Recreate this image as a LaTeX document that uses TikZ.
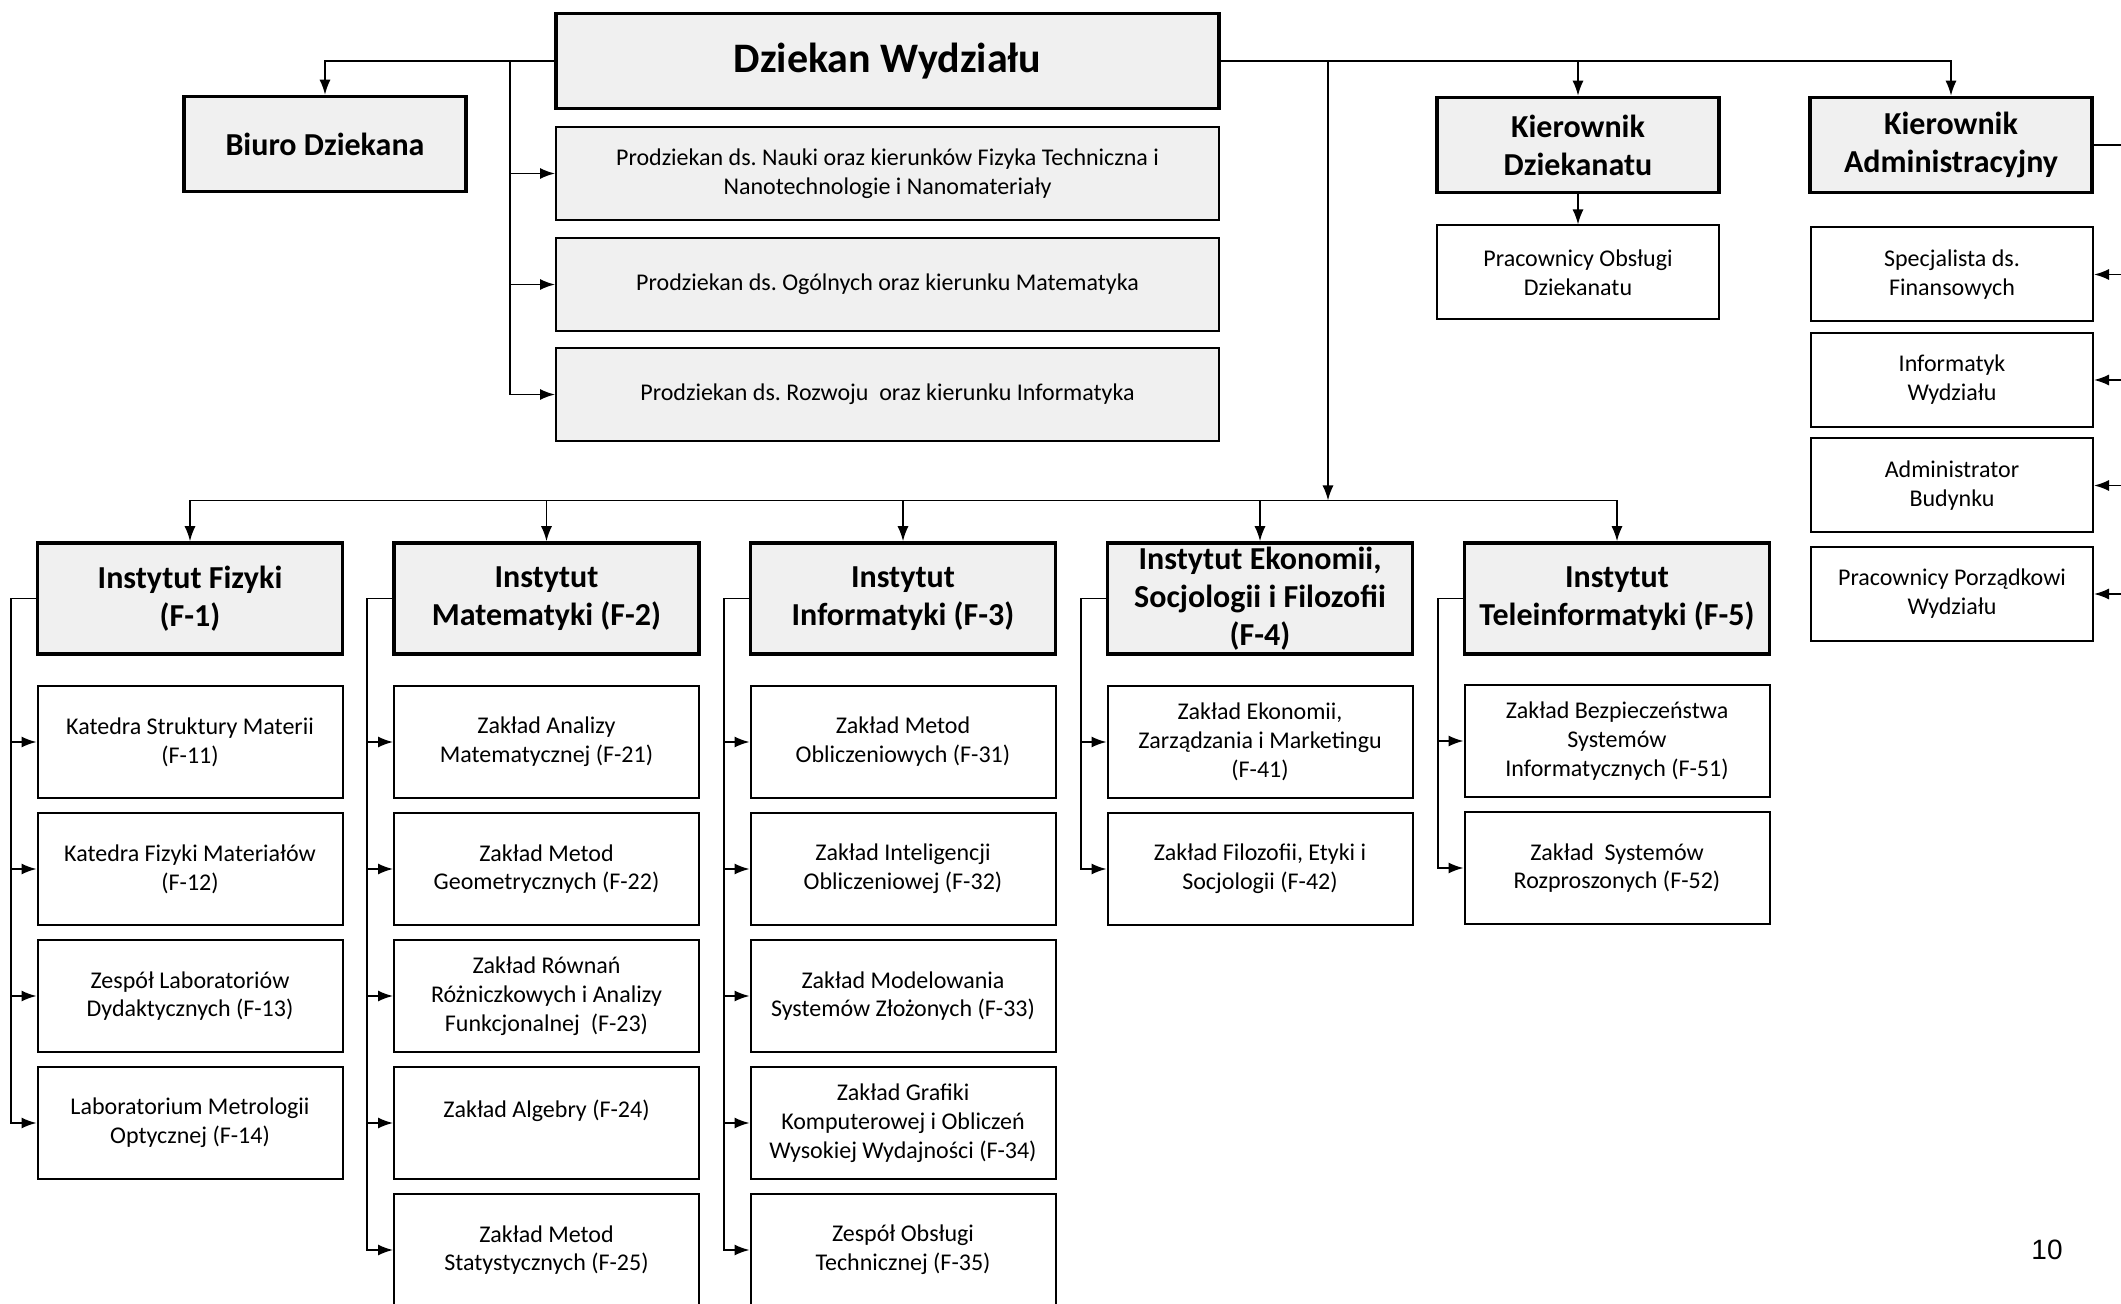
\documentclass[tikz,border=0pt]{standalone}
\usepackage{fontspec}
\setmainfont{Carlito}
\newfontfamily\slidefont{Liberation Sans}
\usetikzlibrary{arrows.meta}
\definecolor{boxgray}{RGB}{240,240,240}
\frenchspacing
\tikzset{
    >={Latex[length=7.5pt,width=5.5pt]},
    chief/.style = {
        draw,
        shape=rectangle,
        fill=boxgray,
        line width=1.75pt,
        inner sep=0pt,
        align=center,
        font=\bfseries\fontsize{16}{19}\selectfont
    },
    office/.style = {
        chief,
        minimum width=141pt,
        minimum height=47.5pt
    },
    institute/.style = {
        chief,
        minimum width=152.5pt,
        minimum height=55.5pt
    },
    deputy/.style = {
        draw,
        shape=rectangle,
        fill=boxgray,
        line width=1pt,
        inner sep=0pt,
        align=center,
        minimum width=331.5pt,
        minimum height=46.5pt,
        font=\fontsize{12}{14.4}\selectfont
    },
    unit/.style = {
        draw,
        shape=rectangle,
        line width=1pt,
        inner sep=0pt,
        align=center,
        minimum width=141pt,
        minimum height=47pt,
        font=\fontsize{12}{14.4}\selectfont
    },
    dept/.style = {
        unit,
        minimum width=152.5pt,
        minimum height=56pt
    },
    link/.style = {
        draw,
        line width=0.8pt
    },
}

\begin{document}
\begin{tikzpicture}[x=0.5pt, y=-0.5pt]
                \useasboundingbox (0,0) rectangle (2121,1304);

                % dean and his office
                \node[chief, minimum width=331.5pt, minimum height=47.5pt,
                    font=\bfseries\fontsize{21}{25}\selectfont] (dean) at (887.5,61) {Dziekan Wydziału};
                \node[office] (office) at (325,144) {Biuro Dziekana};
                \node[deputy] (dep1) at (887.5,173.5) {Prodziekan ds. Nauki oraz kierunków Fizyka Techniczna i\\Nanotechnologie i Nanomateriały};
                \node[deputy] (dep2) at (887.5,284.5) {Prodziekan ds. Ogólnych oraz kierunku Matematyka};
                \node[deputy] (dep3) at (887.5,394.5) {Prodziekan ds. Rozwoju\ \ oraz kierunku Informatyka};
                \node[office] (deanery) at (1578,145) {Kierownik\\Dziekanatu};
                \node[unit] (deanstaff) at (1578,272.5) {Pracownicy Obsługi\\Dziekanatu};
                \node[office] (admin) at (1951,145) {Kierownik\\Administracyjny};
                \node[unit] (finance) at (1952,274.5) {Specjalista ds.\\Finansowych};
                \node[unit] (itstaff) at (1952,380) {Informatyk\\Wydziału};
                \node[unit] (building) at (1952,485.5) {Administrator\\Budynku};
                \node[unit] (cleaning) at (1952,594) {Pracownicy Porządkowi\\Wydziału};

                % institutes
                \node[institute] (f1) at (190,598.5) {Instytut Fizyki\\(F-1)};
                \node[institute] (f2) at (546.5,598.5) {Instytut\\Matematyki (F-2)};
                \node[institute] (f3) at (903,598.5) {Instytut\\Informatyki (F-3)};
                \node[institute] (f4) at (1260,598.5) {Instytut Ekonomii,\\Socjologii i Filozofii\\(F-4)};
                \node[institute] (f5) at (1617,598.5) {Instytut\\Teleinformatyki (F-5)};

                % chairs and departments
                \node[dept] (f11) at (190,742) {Katedra Struktury Materii\\(F-11)};
                \node[dept] (f12) at (190,869) {Katedra Fizyki Materiałów\\(F-12)};
                \node[dept] (f13) at (190,996) {Zespół Laboratoriów\\Dydaktycznych (F-13)};
                \node[dept] (f14) at (190,1123) {Laboratorium Metrologii\\Optycznej (F-14)};
                \node[dept] (f21) at (546.5,742) {Zakład Analizy\\Matematycznej (F-21)};
                \node[dept] (f22) at (546.5,869) {Zakład Metod\\Geometrycznych (F-22)};
                \node[dept] (f23) at (546.5,996) {Zakład Równań\\Różniczkowych i Analizy\\Funkcjonalnej\ \ (F-23)};
                \node[dept] (f24) at (546.5,1123) {Zakład Algebry (F-24)\\\mbox{}};
                \node[dept] (f25) at (546.5,1250) {Zakład Metod\\Statystycznych (F-25)};
                \node[dept] (f31) at (903,742) {Zakład Metod\\Obliczeniowych (F-31)};
                \node[dept] (f32) at (903,869) {Zakład Inteligencji\\Obliczeniowej (F-32)};
                \node[dept] (f33) at (903,996) {Zakład Modelowania\\Systemów Złożonych (F-33)};
                \node[dept] (f34) at (903,1123) {Zakład Grafiki\\Komputerowej i Obliczeń\\Wysokiej Wydajności (F-34)};
                \node[dept] (f35) at (903,1250) {Zespół Obsługi\\Technicznej (F-35)};
                \node[dept] (f41) at (1260,742) {Zakład Ekonomii,\\Zarządzania i Marketingu\\(F-41)};
                \node[dept] (f42) at (1260,869) {Zakład Filozofii, Etyki i\\Socjologii (F-42)};
                \node[dept] (f51) at (1617,741) {Zakład Bezpieczeństwa\\Systemów\\Informatycznych (F-51)};
                \node[dept] (f52) at (1617,868) {Zakład\ \ Systemów\\Rozproszonych (F-52)};

                \node[font=\slidefont\fontsize{14}{16}\selectfont] (pagenum) at (2047,1250) {10};

                \coordinate (depbus) at (510,61);
                \coordinate (instbus) at (1328,500.5);
                \coordinate (adminbus) at (2128,145);

                \path[link, ->] (dean.west) -| (office.north);
                \path[link, ->] (depbus) |- (dep1.west);
                \path[link, ->] (depbus) |- (dep2.west);
                \path[link, ->] (depbus) |- (dep3.west);
                \path[link, ->] (dean.east) -| (deanery.north);
                \path[link, ->] (dean.east) -| (admin.north);
                \path[link, ->] (deanery) -- (deanstaff);
                \path[link, ->] (dean.east -| instbus) -- (instbus);

                \path[link] (admin.east) -- (adminbus);
                \path[link, ->] (adminbus) |- (finance.east);
                \path[link, ->] (adminbus) |- (itstaff.east);
                \path[link, ->] (adminbus) |- (building.east);
                \path[link, ->] (adminbus) |- (cleaning.east);

                \path[link, ->] (instbus) -| (f1.north);
                \path[link, ->] (instbus) -| (f2.north);
                \path[link, ->] (instbus) -| (f3.north);
                \path[link, ->] (instbus) -| (f4.north);
                \path[link, ->] (instbus) -| (f5.north);

                \path[link, ->] (f1.west) -- ++(-25,0) |- (f11.west);
                \path[link, ->] (f1.west) -- ++(-25,0) |- (f12.west);
                \path[link, ->] (f1.west) -- ++(-25,0) |- (f13.west);
                \path[link, ->] (f1.west) -- ++(-25,0) |- (f14.west);
                \path[link, ->] (f2.west) -- ++(-25,0) |- (f21.west);
                \path[link, ->] (f2.west) -- ++(-25,0) |- (f22.west);
                \path[link, ->] (f2.west) -- ++(-25,0) |- (f23.west);
                \path[link, ->] (f2.west) -- ++(-25,0) |- (f24.west);
                \path[link, ->] (f2.west) -- ++(-25,0) |- (f25.west);
                \path[link, ->] (f3.west) -- ++(-25,0) |- (f31.west);
                \path[link, ->] (f3.west) -- ++(-25,0) |- (f32.west);
                \path[link, ->] (f3.west) -- ++(-25,0) |- (f33.west);
                \path[link, ->] (f3.west) -- ++(-25,0) |- (f34.west);
                \path[link, ->] (f3.west) -- ++(-25,0) |- (f35.west);
                \path[link, ->] (f4.west) -- ++(-25,0) |- (f41.west);
                \path[link, ->] (f4.west) -- ++(-25,0) |- (f42.west);
                \path[link, ->] (f5.west) -- ++(-25,0) |- (f51.west);
                \path[link, ->] (f5.west) -- ++(-25,0) |- (f52.west);
\end{tikzpicture}
\end{document}
